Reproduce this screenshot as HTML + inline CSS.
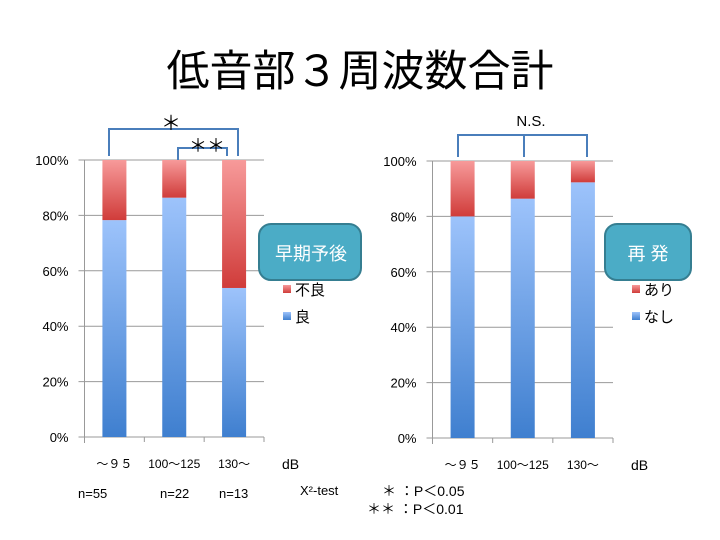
<!DOCTYPE html>
<html><head><meta charset="utf-8"><style>
body{margin:0;background:#fff;}
svg{display:block;font-family:"Liberation Sans","Noto Sans CJK JP",sans-serif;}
</style></head><body>
<svg id="s" width="720" height="540" viewBox="0 0 720 540">
<defs>
<linearGradient id="gb" x1="0" y1="0" x2="0" y2="1"><stop offset="0" stop-color="#9dc3fb"/><stop offset="1" stop-color="#3f7fcf"/></linearGradient>
<linearGradient id="gr" x1="0" y1="0" x2="0" y2="1"><stop offset="0" stop-color="#f79a9a"/><stop offset="1" stop-color="#d03c3a"/></linearGradient>
</defs>
<text x="360" y="86" font-size="43" text-anchor="middle">低音部３周波数合計</text>
<g id="c1"></g>
<g id="c2"></g>
<g fill="none" stroke="#4a7ebb" stroke-width="2">
<path d="M109 156V129H238V156"/><path d="M178 160V148H227V156"/>
<path d="M458 157V135H587V157M524 135V157"/>
</g>
<text x="171" y="130" font-size="20" text-anchor="middle">＊</text>
<text x="207" y="152" font-size="18" text-anchor="middle">＊＊</text>
<text x="531" y="126" font-size="15" text-anchor="middle">N.S.</text>
<rect x="259" y="224" width="102" height="56" rx="12" fill="#4bacc6" stroke="#357e91" stroke-width="2"/>
<text x="311" y="260" font-size="18" fill="#fff" text-anchor="middle">早期予後</text>
<rect x="605" y="224" width="86" height="56" rx="12" fill="#4bacc6" stroke="#357e91" stroke-width="2"/>
<text x="648" y="260" font-size="18" fill="#fff" text-anchor="middle">再 発</text>
<text x="78" y="498" font-size="13">n=55</text>
<text x="160" y="498" font-size="13">n=22</text>
<text x="219" y="498" font-size="13">n=13</text>
<text x="300" y="495" font-size="13">X²-test</text>
<text x="382" y="496" font-size="14">＊  ：P＜0.05</text>
<text x="367" y="514" font-size="14">＊＊ ：P＜0.01</text>
</svg>
<script>
const categories = ["～９５","100～125","130～"];
const goodValues = [78.3, 86.4, 53.8];
const badValues = [21.7, 13.6, 46.2];
const noneValues = [80.0, 86.4, 92.3];
const yesValues = [20.0, 13.6, 7.7];
const yTicks = [0,20,40,60,80,100];
const NS="http://www.w3.org/2000/svg";
function mk(p,t,a){const e=document.createElementNS(NS,t);for(const k in a)e.setAttribute(k,a[k]);p.appendChild(e);return e;}
function chart(g,x0,x1,top,bot,lower,upper,legTop,legBot,legX){
  const y=v=>bot-(v/100)*(bot-top);
  const bw=(x1-x0)/categories.length;
  yTicks.forEach(t=>{
    const l=mk(g,'line',{x1:x0-6,x2:x1,y1:y(t),y2:y(t),stroke:'#999','stroke-width':1});
    
    const tx=mk(g,'text',{x:x0-16,y:y(t)+5,'font-size':13,'text-anchor':'end'});tx.textContent=t+'%';
    
  });
  const ax=mk(g,'path',{d:`M${x0} ${top}V${bot+6}M${x0} ${bot}H${x1}`,stroke:'#999',fill:'none'});
  
  for(let i=0;i<=categories.length;i++){const t=mk(g,'line',{x1:x0+i*bw,x2:x0+i*bw,y1:bot,y2:bot+5,stroke:'#999'});
    }
  categories.forEach((c,i)=>{
    const cx=x0+bw*(i+0.5), w=24;
    const b=mk(g,'rect',{x:cx-w/2,y:y(lower[i]),width:w,height:bot-y(lower[i]),fill:'url(#gb)'});
    
    const r=mk(g,'rect',{x:cx-w/2,y:y(lower[i]+upper[i]),width:w,height:y(lower[i])-y(lower[i]+upper[i]),fill:'url(#gr)'});
    
    const tx=mk(g,'text',{x:cx,y:bot+31,'font-size':12,'text-anchor':'middle'});tx.textContent=c;
    
  });
  const db=mk(g,'text',{x:x1+18,y:bot+32,'font-size':14});db.textContent='dB';
  
  [[legTop,'url(#gr)',295],[legBot,'url(#gb)',322]].forEach(([lab,f,ly])=>{
    const s=mk(g,'rect',{x:legX,y:ly-10,width:8,height:8,fill:f});
    
    const t=mk(g,'text',{x:legX+12,y:ly,'font-size':15});t.textContent=lab;
    
  });
}
chart(document.getElementById('c1'),84.5,264,160,437,goodValues,badValues,'不良','良',283);
chart(document.getElementById('c2'),432.5,613,161,438,noneValues,yesValues,'あり','なし',632);
</script>
</body></html>
